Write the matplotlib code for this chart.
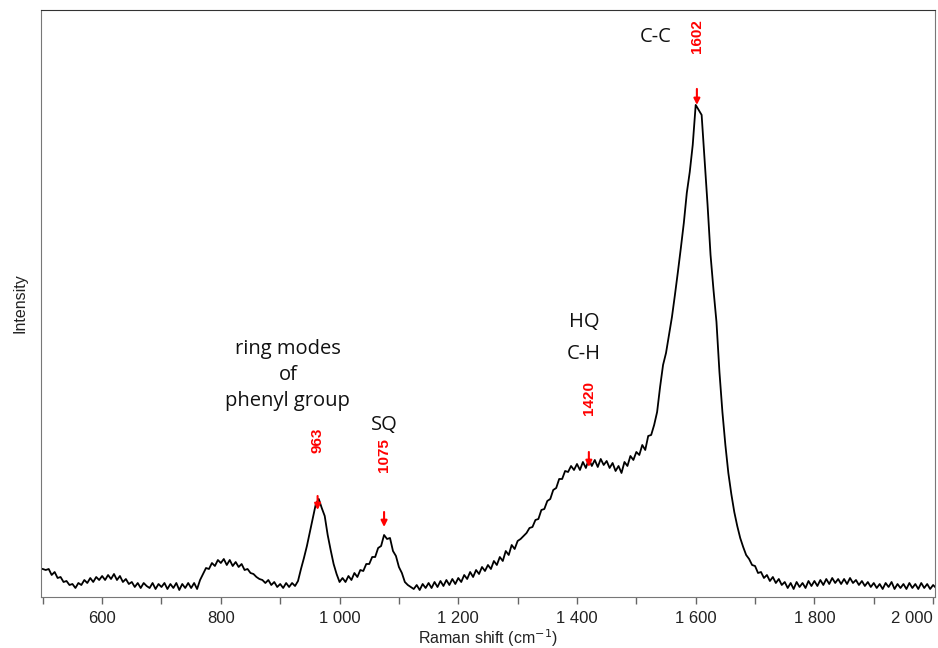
import numpy as np
import matplotlib
matplotlib.use("Agg")
import matplotlib.pyplot as plt
from matplotlib.ticker import MultipleLocator, FuncFormatter

# Raman shift grid (cm-1), 5 cm-1 steps, and intensity (a.u.)
shift = np.arange(500, 2010, 5)
intensity = [
    31, 30, 31, 25, 28, 22, 23, 18, 19, 15,            # 500-545
    16, 12, 17, 15, 20, 17, 22, 18, 23, 20,            # 550-595
    24, 20, 25, 21, 26, 20, 24, 18, 21, 16,            # 600-645
    18, 13, 17, 12, 17, 14, 12, 17, 11, 16,            # 650-695
    13, 17, 11, 16, 12, 17, 10, 16, 12, 17,            # 700-745
    12, 17, 11, 20, 26, 32, 31, 37, 34, 40,            # 750-795
    37, 41, 35, 40, 34, 38, 33, 36, 30, 31,            # 800-845
    27, 26, 23, 21, 20, 17, 20, 15, 18, 13,            # 850-895
    16, 12, 17, 13, 17, 14, 19, 31, 42, 54,            # 900-945
    68, 82, 96, 101, 92, 84, 65, 50, 36, 26,           # 950-995
    18, 22, 18, 24, 20, 27, 23, 30, 29, 36,            # 1000-1045
    36, 43, 43, 52, 54, 65, 61, 62, 49, 44,            # 1050-1095
    33, 27, 18, 15, 13, 11, 15, 10, 16, 12,            # 1100-1145
    17, 12, 18, 13, 19, 14, 20, 15, 21, 16,            # 1150-1195
    22, 18, 25, 21, 28, 23, 30, 26, 33, 29,            # 1200-1245
    35, 31, 39, 35, 43, 39, 49, 45, 55, 51,            # 1250-1295
    59, 61, 64, 67, 72, 73, 80, 81, 90, 91,            # 1300-1345
    99, 101, 110, 112, 121, 121, 129, 128, 134, 130,   # 1350-1395
    136, 130, 138, 132, 141, 134, 140, 133, 141, 135,  # 1400-1445
    139, 132, 137, 129, 134, 127, 138, 134, 144, 140,  # 1450-1495
    148, 145, 155, 150, 164, 165, 175, 188, 213, 235,  # 1500-1545
    247, 265, 283, 305, 328, 352, 377, 407, 428, 455,  # 1550-1595
    495, 490, 485, 440, 395, 345, 310, 278, 228, 188,  # 1600-1645
    155, 127, 106, 88, 74, 62, 53, 45, 41, 35,         # 1650-1695
    34, 27, 28, 22, 25, 19, 23, 17, 21, 15,            # 1700-1745
    18, 12, 17, 11, 18, 13, 17, 12, 19, 14,            # 1750-1795
    19, 14, 20, 15, 21, 16, 22, 17, 21, 16,            # 1800-1845
    21, 16, 22, 17, 20, 15, 19, 14, 18, 13,            # 1850-1895
    17, 12, 16, 11, 17, 13, 18, 11, 16, 12,            # 1900-1945
    16, 11, 17, 12, 16, 11, 17, 12, 16, 11, 15, 12,    # 1950-2005
]

# peak markers: position, label height, arrow tail, arrow tip
peak_pos = [963, 1075, 1420, 1602]
peak_label_y = [160, 145, 202, 564]
arrow_tail = [104, 88, 148, 511]
arrow_tip = [90, 73, 133, 495]

# band assignments
band_text = ["ring modes\nof\nphenyl group", "SQ", "HQ", "C-H", "C-C"]
band_x = [913, 1076, 1412, 1412, 1533]
band_y = [225, 175, 278, 246, 563]

fig = plt.figure(figsize=(9.38, 6.48), dpi=100)
ax = fig.add_axes([0.0437, 0.0787, 0.953, 0.906])

ax.plot(shift, intensity, color="black", lw=1.3)

for p, ly, t0, t1 in zip(peak_pos, peak_label_y, arrow_tail, arrow_tip):
    ax.text(p, ly, str(p), color="red", rotation=90, ha="center", va="center",
            fontsize=11, fontweight="bold", family="Liberation Sans")
    ax.annotate("", xy=(p, t1), xytext=(p, t0),
                arrowprops=dict(arrowstyle="-|>", color="red", lw=1.5,
                                mutation_scale=9, shrinkA=0, shrinkB=0))

for t, x, y in zip(band_text, band_x, band_y):
    ax.text(x, y, t, ha="center", va="center", fontsize=14.5, family="Open Sans",
            linespacing=1.4, color="#111111")

ax.set_xlim(497, 2003)
ax.set_ylim(3, 590)
ax.xaxis.set_major_locator(MultipleLocator(200))
ax.xaxis.set_minor_locator(MultipleLocator(100))
ax.xaxis.set_major_formatter(FuncFormatter(lambda v, _: f"{int(v):,}".replace(",", " ")))
ax.set_yticks([])

ax.tick_params(axis="x", which="both", direction="out", colors="#666666",
               labelcolor="#222222", labelsize=12, pad=5)
ax.tick_params(axis="x", which="major", length=5, width=1)
ax.tick_params(axis="x", which="minor", length=5, width=1)

fig.canvas.draw()
labels = ax.get_xticklabels()
for lbl in labels:
    lbl.set_family("Liberation Sans")
    if lbl.get_text() == "2 000":
        lbl.set_horizontalalignment("right")
        lbl.set_x(2002)

for side in ["left", "bottom", "right"]:
    ax.spines[side].set_color("#777777")
ax.spines["top"].set_color("#333333")

ax.set_xlabel("Raman shift (cm$^{-1}$)", fontsize=11.5, family="Liberation Sans",
              color="#222222", labelpad=1)
ax.set_ylabel("Intensity", fontsize=11.5, family="Liberation Sans", color="#222222",
              labelpad=10)

fig.savefig("out.png", dpi=100)
